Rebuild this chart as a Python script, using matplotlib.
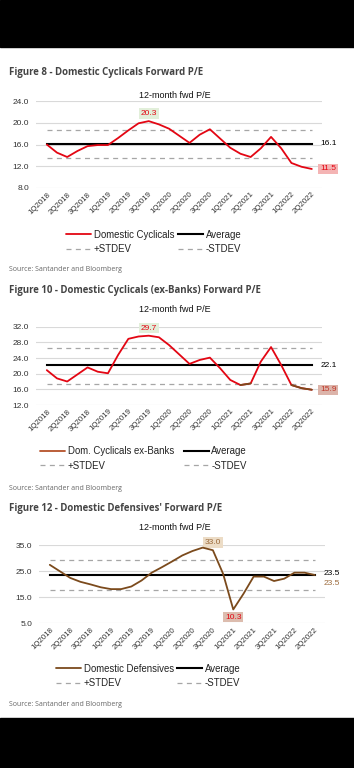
import numpy as np
import matplotlib.pyplot as plt
from matplotlib.patches import Rectangle

W, H = 354, 768

quarters = ['1Q2018', '2Q2018', '3Q2018', '1Q2019', '2Q2019', '3Q2019', '1Q2020',
            '2Q2020', '3Q2020', '1Q2021', '2Q2021', '3Q2021', '1Q2022', '2Q2022']

# P/E read at every label and halfway between labels
cyc_pe = [16.0, 14.5, 13.7, 14.8, 15.7, 15.9, 15.9, 17.2, 18.6, 19.9, 20.3, 19.7, 18.9,
          17.6, 16.3, 17.8, 18.8, 17.1, 15.4, 14.3, 13.7, 15.3, 17.4, 15.3, 12.6, 11.9, 11.5]
cyc_exb_pe = [20.9, 18.8, 18.0, 19.8, 21.6, 20.5, 20.1, 24.8, 28.9, 29.5, 29.7, 29.3, 27.3,
              24.9, 22.5, 23.5, 24.1, 21.4, 18.4, 17.1, 17.5, 23.1, 26.8, 22.2, 17.1, 16.3, 15.9]
def_pe = [27.4, 24.9, 22.4, 20.9, 19.9, 18.8, 18.1, 18.1, 19.1, 21.4, 24.4, 26.5, 28.7,
          31.0, 32.7, 34.0, 33.0, 24.0, 10.3, 16.3, 22.9, 22.9, 21.2, 22.1, 24.4, 24.4, 23.5]

averages = [16.1, 22.1, 23.5]
plus_sd = [18.65, 26.55, 29.1]
minus_sd = [13.55, 17.45, 17.6]

RED = '#e30613'
BROWN = '#7b4a1c'
GRID = '#d9d9d9'
DASH = '#a6a6a6'
TXT = '#333333'
FONT = 'Liberation Sans'


def px(x, y):
    return x / W, 1 - y / H


fig = plt.figure(figsize=(W / 100, H / 100), dpi=100)
fig.patch.set_facecolor('white')
fig.add_artist(Rectangle((0, 1 - 47 / H), 1, 47 / H, transform=fig.transFigure, color='black'))
fig.add_artist(Rectangle((0, 0), 1, 50 / H, transform=fig.transFigure, color='black'))


def panel(rect_px, values, avg, up, dn, ylim, yticks, color, name, fig_title, title_y,
          chart_title_y, legend_xy, colspace, source_y, peak_idx, peak_box, peak_txt,
          end_box, end_txt, end_dy=0, low_idx=None, low_box=None, low_txt=None,
          overlay=None, legend_color=None):
    left, top, right, bottom = rect_px
    ax = fig.add_axes([left / W, 1 - bottom / H, (right - left) / W, (bottom - top) / H])
    x = np.arange(len(values)) / 2.0
    n = len(quarters)
    ax.set_xlim(-0.53, n - 0.5)
    ax.set_ylim(*ylim)
    ax.set_yticks(yticks)
    ax.set_yticklabels([f'{v:.1f}' for v in yticks], fontsize=6, color=TXT, family=FONT)
    ax.set_xticks(np.arange(n))
    ax.set_xticklabels(quarters, rotation=45, ha='right', rotation_mode='anchor',
                       fontsize=5.7, color=TXT, family=FONT)
    ax.tick_params(axis='y', length=0, pad=5)
    ax.tick_params(axis='x', length=0, pad=2)
    for s in ax.spines.values():
        s.set_visible(False)
    ax.grid(axis='y', color=GRID, lw=0.8)
    ax.set_axisbelow(True)

    xs = [0, n - 1]
    ax.plot(xs, [up, up], color=DASH, lw=0.9, dashes=(4, 3.5), label='+STDEV')
    ax.plot(xs, [dn, dn], color=DASH, lw=0.9, dashes=(4, 3.5), label='-STDEV')
    ax.plot(xs, [avg, avg], color='black', lw=1.5, label='Average', zorder=3)
    ax.plot(x, values, color=color, lw=1.3, label=name, zorder=4,
            solid_joinstyle='round', solid_capstyle='round')
    if overlay is not None:
        vals = np.array(values, dtype=float)
        ax.plot(x, np.ma.masked_where(vals > overlay, vals), color=BROWN, lw=1.3,
                zorder=5, solid_capstyle='round')

    fig.text(*px(174.5, chart_title_y), '12-month fwd P/E', fontsize=6.5, color='#111111',
             family=FONT, ha='center', va='center')

    ax.annotate(f'{values[2 * peak_idx]:.1f}', xy=(peak_idx, values[2 * peak_idx]),
                xytext=(0, 3), textcoords='offset points', ha='center', va='bottom',
                fontsize=6, color=peak_txt, family=FONT,
                bbox=dict(boxstyle='square,pad=0.2', fc=peak_box, ec='none'))
    ax.annotate(f'{values[-1]:.1f}', xy=(n - 1, values[-1]), xytext=(6, end_dy),
                textcoords='offset points', ha='left', va='center',
                fontsize=6, color=end_txt, family=FONT,
                bbox=dict(boxstyle='square,pad=0.2', fc=end_box, ec='none'),
                annotation_clip=False)
    if low_idx is not None:
        ax.annotate(f'{values[2 * low_idx]:.1f}', xy=(low_idx, values[2 * low_idx]),
                    xytext=(0, -3), textcoords='offset points', ha='center', va='top',
                    fontsize=6, color=low_txt, family=FONT,
                    bbox=dict(boxstyle='square,pad=0.2', fc=low_box, ec='none'))
    ax.annotate(f'{avg:.1f}', xy=(n - 1, avg), xytext=(6, 0 if end_dy == 0 else 1),
                textcoords='offset points', ha='left', va='center',
                fontsize=6, color='black', family=FONT, annotation_clip=False)

    h, l = ax.get_legend_handles_labels()
    order = [3, 0, 2, 1]
    leg = ax.legend([h[i] for i in order], [l[i] for i in order], ncol=2, frameon=False,
                    loc='upper left', bbox_to_anchor=px(*legend_xy),
                    bbox_transform=fig.transFigure, borderpad=0, borderaxespad=0,
                    handlelength=2.6, handletextpad=0.3,
                    columnspacing=colspace, labelspacing=0.5,
                    prop={'family': FONT, 'size': 6.9})
    if legend_color is not None:
        leg.legend_handles[0].set_color(legend_color)
    for t in leg.get_texts():
        t.set_color('#222222')

    fig.text(*px(9, title_y), fig_title, fontsize=6.9, fontweight='bold',
             color='#444444', family='Open Sans', va='center', ha='left')
    fig.text(*px(9, source_y), 'Source: Santander and Bloomberg', fontsize=5.0,
             color='#666666', family='Open Sans', va='center', ha='left')
    return ax


panel((36, 101, 322, 188), cyc_pe, averages[0], plus_sd[0], minus_sd[0], (8, 24),
      [8, 12, 16, 20, 24], RED, 'Domestic Cyclicals',
      'Figure 8 - Domestic Cyclicals Forward P/E', 73, 95, (66, 229.5), 0.4, 269,
      5, '#e2efda', RED, '#f4b4b4', RED)

panel((36, 326.7, 322, 405), cyc_exb_pe, averages[1], plus_sd[1], minus_sd[1], (12, 32),
      [12, 16, 20, 24, 28, 32], RED, 'Dom. Cyclicals ex-Banks',
      'Figure 10 - Domestic Cyclicals (ex-Banks) Forward P/E', 290, 310, (40, 446), 1.0, 488,
      5, '#e2efda', RED, '#dcb4aa', '#c0392b', overlay=17.6, legend_color='#b5522a')

panel((39, 545, 325, 623.3), def_pe, averages[2], plus_sd[2], minus_sd[2], (5, 35),
      [5, 15, 25, 35], BROWN, 'Domestic Defensives',
      "Figure 12 - Domestic Defensives' Forward P/E", 509, 527, (56, 663.5), 0.3, 704,
      8, '#ecdcc6', '#9c6b3c', 'none', '#9c6b3c', end_dy=-6,
      low_idx=9, low_box='#dcbcae', low_txt=RED)

fig.savefig('out.png', dpi=100, facecolor='white')
